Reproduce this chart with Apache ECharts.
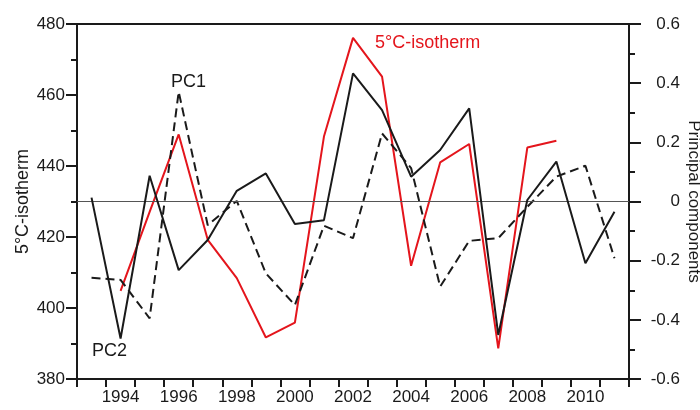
<!DOCTYPE html>
<html>
<head>
<meta charset="utf-8">
<script src="https://cdn.jsdelivr.net/npm/echarts@6/dist/echarts.min.js"></script>
<style>
  html, body { margin: 0; padding: 0; background: #fff; }
  #chart { width: 700px; height: 410px; }
</style>
</head>
<body>
<div id="chart"></div>
<script>
// Years on the category axis
const years = ['1993','1994','1995','1996','1997','1998','1999','2000','2001','2002',
               '2003','2004','2005','2006','2007','2008','2009','2010','2011'];

// 5°C-isotherm height (left axis)
const isotherm = [null, 404.8, 427.1, 448.9, 419.2, 408.4, 391.7, 395.9, 448.3, 476.1,
                  465.2, 411.9, 441.0, 446.2, 388.6, 445.2, 447.1, null, null];

// First principal component (right axis, dashed)
const pc1 = [-0.258, -0.265, -0.395, 0.371, -0.080, 0.002, -0.243, -0.350, -0.082, -0.124,
             0.230, 0.113, -0.288, -0.133, -0.124, -0.018, 0.084, 0.121, -0.192];

// Second principal component (right axis, solid)
const pc2 = [0.013, -0.463, 0.087, -0.232, -0.130, 0.036, 0.095, -0.076, -0.063, 0.433,
             0.309, 0.084, 0.174, 0.315, -0.451, 0.005, 0.135, -0.209, -0.035];

const FONT = '"Liberation Sans", Arial, sans-serif';
const FS = 17;
const INK = '#1a1a1a';
const RED = '#e4151c';

const chart = echarts.init(document.getElementById('chart'), null, { renderer: 'canvas' });

chart.setOption({
  animation: false,
  backgroundColor: '#ffffff',
  textStyle: { fontFamily: FONT },
  grid: {
    left: 77, right: 71, top: 24, bottom: 31,
    outerBoundsMode: 'none',
    containLabel: false,
    show: true, borderColor: INK, borderWidth: 2, backgroundColor: 'transparent'
  },
  xAxis: {
    type: 'category',
    data: years,
    boundaryGap: true,
    axisLine: { onZero: false, lineStyle: { color: INK, width: 2 } },
    axisTick: { show: true, interval: 0, alignWithLabel: false, length: 8, lineStyle: { color: INK, width: 2 } },
    axisLabel: {
      interval: (idx) => idx % 2 === 1,
      color: INK, fontSize: FS, fontFamily: FONT, margin: 10
    },
    splitLine: { show: false }
  },
  yAxis: [
    {
      type: 'value',
      min: 380, max: 480, interval: 20,
      position: 'left',
      name: '5°C-isotherm',
      nameLocation: 'middle',
      nameGap: 45,
      nameMoveOverlap: false,
      nameTextStyle: { color: INK, fontSize: 18, fontFamily: FONT },
      axisLine: { show: true, onZero: false, lineStyle: { color: INK, width: 2 } },
      axisTick: { show: true, length: 11, lineStyle: { color: INK, width: 2 } },
      minorTick: { show: true, splitNumber: 2, length: 6, lineStyle: { color: INK, width: 2 } },
      axisLabel: { color: INK, fontSize: FS, fontFamily: FONT, margin: 12 },
      splitLine: { show: false }
    },
    {
      type: 'value',
      min: -0.6, max: 0.6, interval: 0.2,
      position: 'right',
      name: 'Principal components',
      nameLocation: 'middle',
      nameGap: 56,
      nameMoveOverlap: false,
      nameRotate: -90,
      nameTextStyle: { color: INK, fontSize: 17, fontFamily: FONT },
      axisLine: { show: true, onZero: false, lineStyle: { color: INK, width: 2 } },
      axisTick: { show: true, length: 12, lineStyle: { color: INK, width: 2 } },
      minorTick: { show: true, splitNumber: 2, length: 6, lineStyle: { color: INK, width: 2 } },
      axisLabel: {
        color: INK, fontSize: FS, fontFamily: FONT, margin: 51, align: 'right',
        formatter: (v) => {
          const r = Math.round(v * 10) / 10;
          return r === 0 ? '0' : r.toFixed(1);
        }
      },
      splitLine: { show: false }
    }
  ],
  series: [
    {
      name: '5°C-isotherm',
      type: 'line',
      yAxisIndex: 0,
      data: isotherm,
      showSymbol: false,
      connectNulls: false,
      lineStyle: { color: RED, width: 2 },
      itemStyle: { color: RED },
      z: 3
    },
    {
      name: 'PC1',
      type: 'line',
      yAxisIndex: 1,
      data: pc1,
      showSymbol: false,
      lineStyle: { color: INK, width: 2, type: [9, 5] },
      itemStyle: { color: INK },
      z: 4,
      markLine: {
        silent: true,
        symbol: 'none',
        label: { show: false },
        lineStyle: { color: '#555', width: 1, type: 'solid' },
        data: [{ yAxis: 0 }]
      }
    },
    {
      name: 'PC2',
      type: 'line',
      yAxisIndex: 1,
      data: pc2,
      showSymbol: false,
      lineStyle: { color: INK, width: 2 },
      itemStyle: { color: INK },
      z: 5
    }
  ],
  graphic: [
    { type: 'text', left: 171, top: 73, style: { text: 'PC1', fill: INK, font: '18px ' + FONT } },
    { type: 'text', left: 92, top: 342, style: { text: 'PC2', fill: INK, font: '18px ' + FONT } },
    { type: 'text', left: 375, top: 34, style: { text: '5°C-isotherm', fill: RED, font: '18px ' + FONT } }
  ]
});
</script>
</body>
</html>
